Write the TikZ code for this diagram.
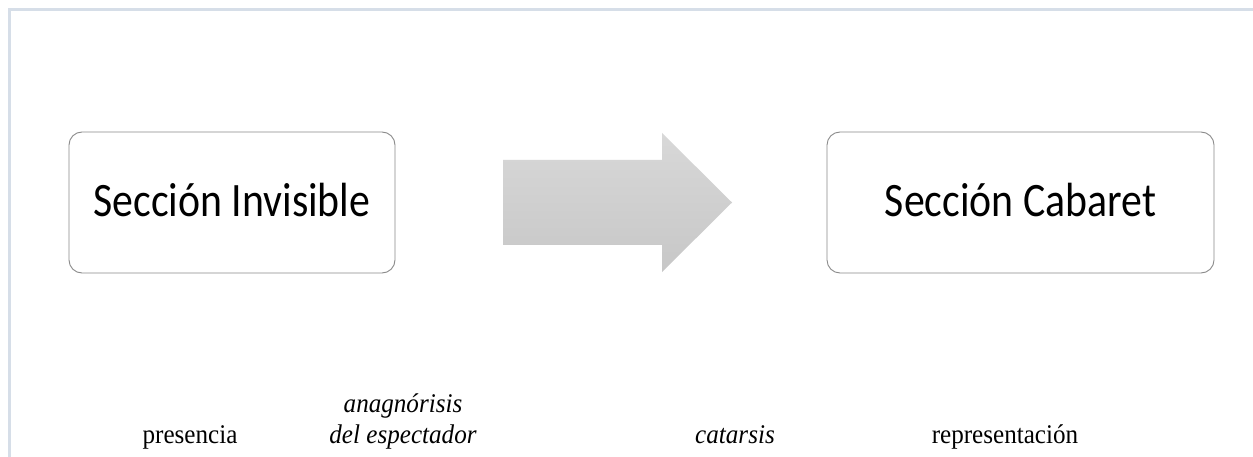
\documentclass[tikz,border=0pt]{standalone}
\usepackage{fontspec}
\setmainfont{Liberation Serif}
\newfontfamily\boxfont{Carlito}
\definecolor{framecol}{HTML}{D6DEE8}
\definecolor{boxline}{HTML}{8A8A8A}
\definecolor{arrtop}{HTML}{D8D8D8}
\definecolor{arrbot}{HTML}{C7C7C7}
\newcommand{\narrow}[1]{\scalebox{0.93}[1]{#1}}
\begin{document}
\begin{tikzpicture}[x=1pt,y=-1pt,
  secbox/.style={draw=boxline, line width=0.9pt, rounded corners=13pt, fill=white},
  boxtext/.style={font=\boxfont\fontsize{48}{54}\selectfont, text=black, anchor=base, inner sep=0pt},
  lbl/.style={font=\fontsize{27}{31}\selectfont, anchor=base, inner sep=0pt},
  lbli/.style={lbl, font=\itshape\fontsize{27}{31}\selectfont}]
\useasboundingbox (0,0) rectangle (1253,457);
\fill[white] (0,0) rectangle (1253,457);
% frame
\draw[framecol, line width=3pt] (9,457) -- (9,9.5) -- (1253,9.5);
% boxes
\draw[secbox] (69,132) rectangle (395,273);
\node[boxtext] (inv) at (232,217) {\scalebox{0.87}[1]{Sección Invisible}};
\draw[secbox] (827,132) rectangle (1214,273);
\node[boxtext] (cab) at (1020.5,217) {\scalebox{0.87}[1]{Sección Cabaret}};
% block arrow
\shade[top color=arrtop, bottom color=arrbot]
  (503,160) -- (662,160) -- (662,133) -- (732,202.5) -- (662,272) -- (662,245) -- (503,245) -- cycle;
% labels
\node[lbl] (pres) at (190,443) {\narrow{presencia}};
\node[lbli] (ana) at (403,412) {\narrow{anagnórisis}};
\node[lbli] (esp) at (403,443) {\narrow{del espectador}};
\node[lbli] (cat) at (735,443) {\narrow{catarsis}};
\node[lbl] (rep) at (1005,443) {\narrow{representación}};
\end{tikzpicture}
\end{document}
